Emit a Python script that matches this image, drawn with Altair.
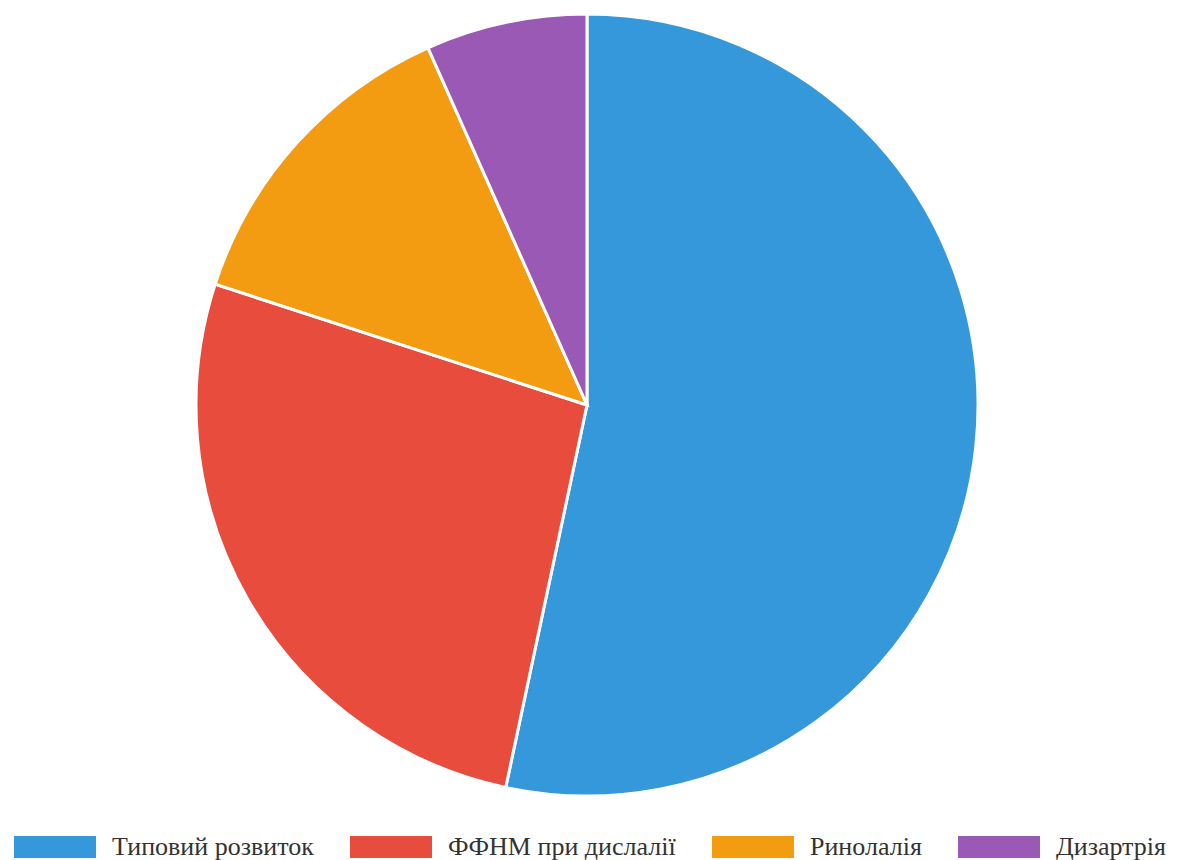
import altair as alt
import pandas as pd

categories = ["Типовий розвиток", "ФФНМ при дислалії", "Ринолалія", "Дизартрія"]
values = [8, 4, 2, 1]
colors = ["#3498db", "#e74c3c", "#f39c12", "#9b59b6"]

df = pd.DataFrame({"cat": categories, "val": values, "order": list(range(len(categories)))})

rect_path = "M-1,-0.27L1,-0.27L1,0.27L-1,0.27Z"

chart = alt.Chart(df).mark_arc(
    outerRadius=391, stroke="white", strokeWidth=3
).encode(
    theta=alt.Theta("val:Q", stack=True),
    order=alt.Order("order:Q"),
    color=alt.Color(
        "cat:N",
        sort=categories,
        scale=alt.Scale(domain=categories, range=colors),
        legend=alt.Legend(
            title=None,
            orient="none",
            legendX=6,
            legendY=798,
            direction="horizontal",
            columns=4,
            symbolType=rect_path,
            symbolSize=6724,
            symbolStrokeWidth=0,
            labelFont="Liberation Serif",
            labelFontSize=26,
            labelColor="#333333",
            labelOffset=16,
            columnPadding=36,
            labelLimit=400,
        ),
    ),
    x=alt.value(579),
    y=alt.value(397),
).properties(
    width=1168, height=852, autosize=alt.AutoSizeParams(type="none"), padding=0
).configure_view(stroke=None)

chart.save("out.html", embed_options={"renderer": "svg", "actions": False})
